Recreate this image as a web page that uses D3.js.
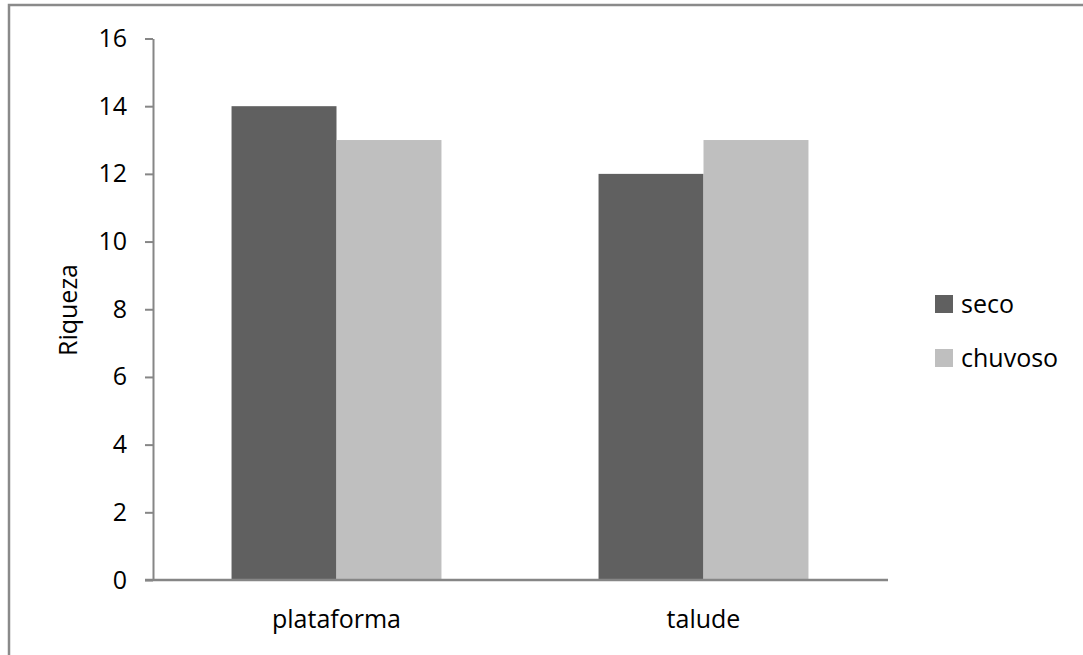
<!DOCTYPE html>
<html>
<head>
<meta charset="utf-8">
<script src="https://cdn.jsdelivr.net/npm/d3@7"></script>
<style>
  html, body { margin: 0; padding: 0; background: #fff; }
  svg { display: block; }
  text { font-family: "Open Sans", sans-serif; fill: #000; }
</style>
</head>
<body>
<svg id="chart" width="1083" height="655"></svg>
<script>
// Species richness by zone and season
const categories = ["plataforma", "talude"];
const seriesNames = ["seco", "chuvoso"];
const seco = [14, 12];
const chuvoso = [13, 13];
const yTicks = [0, 2, 4, 6, 8, 10, 12, 14, 16];
const colors = ["#606060", "#bfbfbf"];

const svg = d3.select("#chart");
const W = 1083, H = 655;

// frame around the chart area (top and left edges)
svg.append("path")
  .attr("d", `M9,${H} L9,5 L${W},5`)
  .attr("fill", "none")
  .attr("stroke", "#8a8a8a")
  .attr("stroke-width", 2.5);

const plot = { left: 153, right: 887, top: 38.5, bottom: 580 };

// one band per category; the bar pair fills part of each band
const x0 = d3.scaleBand()
  .domain(categories)
  .range([plot.left, plot.right]);
const bandStep = x0.step();
const groupW = bandStep * 0.572;
const x1 = d3.scaleBand().domain(seriesNames).range([0, groupW]);

const y = d3.scaleLinear().domain([0, 16]).range([plot.bottom, plot.top]);

const data = categories.map((c, i) => ({ cat: c, values: [seco[i], chuvoso[i]] }));

const groups = svg.append("g").selectAll("g").data(data).join("g")
  .attr("transform", d => `translate(${x0(d.cat) + (bandStep - groupW) / 2},0)`);

groups.selectAll("rect")
  .data(d => d.values.map((v, k) => ({ name: seriesNames[k], v, k })))
  .join("rect")
  .attr("x", d => x1(d.name))
  .attr("width", x1.bandwidth())
  .attr("y", d => y(d.v))
  .attr("height", d => y(0) - y(d.v))
  .attr("fill", d => colors[d.k]);

// y axis
const yAxis = d3.axisLeft(y).tickValues(yTicks).tickSize(8).tickSizeOuter(0).tickPadding(18);
const gy = svg.append("g").attr("transform", `translate(${plot.left},0)`).call(yAxis);
gy.select(".domain").attr("stroke", "#868686").attr("stroke-width", 2);
gy.selectAll(".tick line").attr("stroke", "#868686").attr("stroke-width", 2);
gy.selectAll(".tick text")
  .style("font-family", "'Open Sans', sans-serif")
  .style("font-size", "25px")
  .attr("fill", "#000");

// x axis baseline
svg.append("line")
  .attr("x1", 145).attr("x2", plot.right + 1)
  .attr("y1", y(0)).attr("y2", y(0))
  .attr("stroke", "#868686").attr("stroke-width", 2.5);

// category labels
svg.append("g").selectAll("text").data(categories).join("text")
  .attr("x", d => x0(d) + bandStep / 2)
  .attr("y", 628)
  .attr("text-anchor", "middle")
  .style("font-size", "25px")
  .text(d => d);

// y axis title
svg.append("text")
  .attr("transform", "translate(77,310) rotate(-90)")
  .attr("text-anchor", "middle")
  .style("font-size", "25px")
  .text("Riqueza");

// legend
const legend = svg.append("g").selectAll("g").data(seriesNames).join("g")
  .attr("transform", (d, i) => `translate(935,${295 + i * 54})`);
legend.append("rect")
  .attr("width", 18).attr("height", 18)
  .attr("fill", (d, i) => colors[i]);
legend.append("text")
  .attr("x", 26).attr("y", 18)
  .style("font-size", "25px")
  .text(d => d);
</script>
</body>
</html>
